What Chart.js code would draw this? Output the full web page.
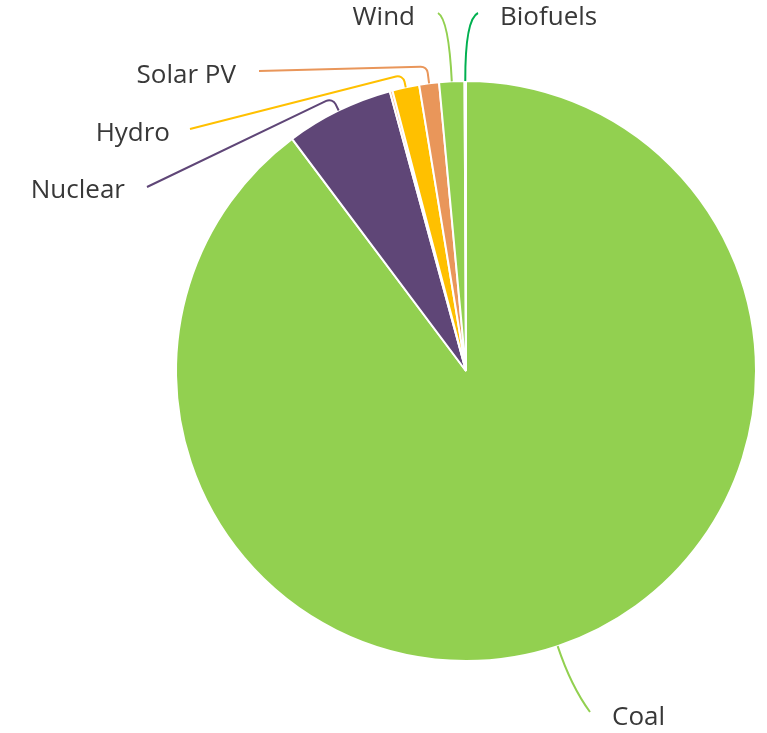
<!DOCTYPE html>
<html>
<head>
<meta charset="utf-8">
<script src="https://cdn.jsdelivr.net/npm/chart.js@4/dist/chart.umd.min.js"></script>
<style>
  html, body { margin: 0; padding: 0; background: #fff; }
  canvas { display: block; }
</style>
</head>
<body>
<canvas id="grafico" width="767" height="733"></canvas>
<script>
// data (share of total, %)
var categories = ['Coal', 'Nuclear', 'Other', 'Hydro', 'Solar PV', 'Wind', 'Biofuels'];
var shares     = [89.7, 6.0, 0.15, 1.5, 1.1, 1.4, 0.08];
var colours    = ['#92d050', '#5f4677', '#f4b183', '#ffc000', '#e9965a', '#92d050', '#00b050'];
var lineColours = ['#92d050', '#5f4677', '#f4b183', '#ffc000', '#e9965a', '#92d050', '#00b050'];

// label placement: text pos, line end, elbow / control distance
var callouts = {
  'Coal':     { tx: 612, ty: 718, align: 'left',  ex: 590, ey: 712, kind: 'curve', d: 42 },
  'Nuclear':  { tx: 125, ty: 191, align: 'right', ex: 147, ey: 187, kind: 'elbow', d: 14 },
  'Hydro':    { tx: 170, ty: 134, align: 'right', ex: 190, ey: 129, kind: 'elbow', d: 13 },
  'Solar PV': { tx: 236, ty: 76,  align: 'right', ex: 259, ey: 71,  kind: 'elbow', d: 17 },
  'Wind':     { tx: 415, ty: 18,  align: 'right', ex: 438, ey: 13,  kind: 'curve', d: 62 },
  'Biofuels': { tx: 500, ty: 18,  align: 'left',  ex: 478, ey: 13,  kind: 'curve', d: 62 }
};

var calloutPlugin = {
  id: 'callouts',
  afterDatasetsDraw: function(chart) {
    var ctx = chart.ctx;
    var meta = chart.getDatasetMeta(0);
    meta.data.forEach(function(arc, i) {
      var c = callouts[categories[i]];
      if (!c) return;
      var p = arc.getProps(['x', 'y', 'startAngle', 'endAngle', 'outerRadius'], true);
      var mid = (p.startAngle + p.endAngle) / 2;
      var ax = p.x + Math.cos(mid) * p.outerRadius;
      var ay = p.y + Math.sin(mid) * p.outerRadius;
      var bx = p.x + Math.cos(mid) * (p.outerRadius + c.d);
      var by = p.y + Math.sin(mid) * (p.outerRadius + c.d);
      ctx.save();
      ctx.strokeStyle = lineColours[i];
      ctx.lineWidth = 2;
      ctx.beginPath();
      ctx.moveTo(ax, ay);
      if (c.kind === 'curve') {
        ctx.quadraticCurveTo(bx, by, c.ex, c.ey);
      } else {
        ctx.arcTo(bx, by, c.ex, c.ey, 7);
        ctx.lineTo(c.ex, c.ey);
      }
      ctx.stroke();
      ctx.fillStyle = '#383838';
      ctx.font = '26px "Open Sans"';
      ctx.textAlign = c.align;
      ctx.textBaseline = 'middle';
      ctx.fillText(categories[i], c.tx, c.ty);
      ctx.restore();
    });
  }
};

window.onload = function(){
  var contexto = document.getElementById('grafico').getContext('2d');
  var grafico = new Chart(contexto, {
    type: 'pie',
    data: {
      labels: categories,
      datasets: [{
        data: shares,
        backgroundColor: colours,
        borderColor: '#ffffff',
        borderWidth: 2
      }]
    },
    options: {
      responsive: false,
      animation: false,
      layout: { padding: { left: 175, right: 10, top: 80, bottom: 71 } },
      plugins: {
        legend: { display: false },
        tooltip: { enabled: false }
      }
    },
    plugins: [calloutPlugin]
  });
};
</script>
</body>
</html>
